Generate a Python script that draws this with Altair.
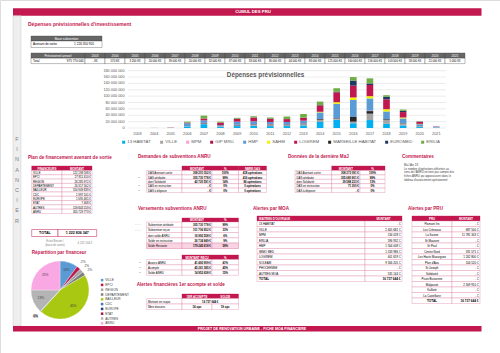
import altair as alt
import pandas as pd

# ---------------- data ----------------
years = [str(y) for y in range(2003, 2022)]
series = ["13 HABITAT", "VILLE", "MPM", "GIP MRU", "HMP", "SAHM", "LOGIREM",
          "MARSEILLE HABITAT", "EUROMED", "ERILIA"]
series_colors = ["#00B0F0", "#A5A5A5", "#F5A3D6", "#A8174A", "#5B9BD5", "#F2F200",
                 "#C0174F", "#262626", "#203864", "#70AD47"]
stack_rank = [0, 1, 3, 4, 5, 6, 7, 2, 8, 9]
# forecast spending, M EUR per owner, 2003..2021
sp_13h = [0, 0, 0, 5, 12, 3, 6, 7, 6, 6, 8, 19, 26, 15, 25, 13, 8, 3, 1]
sp_ville = [0, 0.57, 2, 1, 2, 2, 2, 3, 3, 3, 4, 6, 3, 5, 20, 12, 6, 3, 1]
sp_mpm = [0, 0, 1.2, 0, 0, 0, 0, 0, 1, 0, 0, 0, 0, 0, 1, 0, 0, 0, 0]
sp_gip = [0, 0, 0, 0, 1, 0, 1, 1, 1, 1, 1, 1, 1, 0, 1, 0, 0, 0, 0]
sp_hmp = [0, 0, 0, 9, 8, 4, 10, 9, 7, 8, 9, 21, 45, 53, 38, 25, 15, 6, 2]
sp_sahm = [0, 0, 0, 0, 0, 0, 0, 0, 0, 0, 0, 2, 5, 8, 7, 7, 3, 1, 0]
sp_logi = [0, 0, 0, 2, 6, 8, 9, 12, 10, 9, 9, 20, 31, 37, 35, 31, 17, 6, 1]
sp_mh = [0, 0, 0, 0, 1, 0, 1, 1, 1, 1, 1, 2, 1, 15, 8, 2, 1, 0, 0]
sp_euro = [0, 0, 0, 0, 0, 0, 0, 0, 0, 0, 0, 1, 2, 16, 5, 8, 4, 1, 0]
sp_eril = [0, 0, 0, 3, 9, 3, 3, 4, 4, 8, 12, 11, 11, 11, 16, 5, 4, 1, 0]
spend = [sp_13h, sp_ville, sp_mpm, sp_gip, sp_hmp, sp_sahm, sp_logi, sp_mh, sp_euro, sp_eril]
y_ticks = [0, 20000000, 40000000, 60000000, 80000000, 100000000,
           120000000, 140000000, 160000000, 180000000]

base_subvention = 1226350920

plan_names = ["VILLE", "EPCI", "REGION", "DEPARTEMENT", "BAILLEUR", "CDC",
              "EUROPE", "ETAT", "AUTRES", "ANRU"]
plan_values = [122198598, 27811410, 26285972, 26317562, 550949839, 1997101,
               1695465, 7468, 159843159, 305729773]
plan_colors = ["#5B9BD5", "#C0174F", "#A5A5A5", "#7F7F7F", "#A9C811", "#4472C4",
               "#264478", "#9E1B4A", "#B4B4B4", "#F9A8E4"]
ecart_value = 4222504

dem_labels = ["DAS Avenant sortie", "DAS attribuée", "dont Solidarité",
              "DAS en instruction", "DAS à déposer"]
dem_montant = [308201052, 305730778, 42720591, 0, 0]
dem_pct = [100, 99, 14, 0, 0]
dem_ops = [418, 416, 86, 0, 0]

ver_labels = ["Subvention attribuée", "Subvention reçue", "dont solde ANRU",
              "Solde en instruction", "Solde Restante"]
ver_montant = [305730778, 101706952, 16992558, 26734949, 179245618]
ver_pct = [99, 33, 6, 9, 59]

recu_labels = ["Avance ANRU", "Acompte", "Solde ANRU"]
recu_montant = [41492909, 45261385, 14952658]
recu_pct = [41, 45, 15]

alerte_risque = 16737644
alerte_dossiers = [14, 19]

maj_montant = [308273091, 305680901, 39588233, 71300, 0]
maj_pct = [100, 99, 13, 0, 0]

moa_names = ["13 HABITAT", "VILLE", "MPM", "ERILIA", "HMP", "IMMO MED", "LOGIREM",
             "SOLEAM", "PHOCEENNE", "AUTRES MOA"]
moa_values = [0, 2405682, 134028, 596932, 1564008, 1533986, 401659, 9566205, 0, 535144]

pru_names = ["Flamant Iris", "Les Créneaux", "La Savine", "St Mauront", "St Paul",
             "Centre Nord", "Les Hauts Mazargues", "Plan d'Aou", "St Joseph",
             "Solidarité", "Picon Busserine", "Malpassé", "Kallisté", "La Castellane"]
pru_values = [0, 687500, 11781343, 0, 0, 591571, 1262800, 104520, 0, 0, 0, 2309910, 0, 0]

comment_lines = ["MaJ Avr 18",
                 "Le nombre d'opérations délivrées au",
                 "sens de l'ANRU ne tient pas compte des",
                 "fiches ANRU qui apparaissent dans le",
                 "tableau d'avancement opérationnel"]

# ---------------- styling ----------------
MAG = "#C3174F"
PINK = "#D87C9E"
DARK = "#404040"
GRAYTXT = "#595959"
FONT = "Liberation Sans"
PIE_X, PIE_Y, PIE_R = 60, 290, 29


def fmt(v):
    return f"{v:,.0f}".replace(",", " ")


def eur(v):
    return "- €" if v == 0 else fmt(v) + " €"


rects = []
texts = []


def R(x, x2, y, y2, fill="transparent", stroke="transparent", sw=0.0):
    rects.append(dict(x=x, x2=x2, y=y, y2=y2, fill=fill, stroke=stroke, sw=sw))


def T(x, y, t, size=3.0, color="#000000", align="left", bold=False):
    texts.append(dict(x=x, y=y, t=t, size=size, color=color, align=align, bold=bold))


def grid(xs, ys, stroke=PINK, sw=0.35, fill="#FFFFFF"):
    for i in range(len(xs) - 1):
        for j in range(len(ys) - 1):
            R(xs[i], xs[i + 1], ys[j], ys[j + 1], fill, stroke, sw)


# header band + left strip + bottom band
R(13, 481.5, 8.3, 15.8, MAG)
T(253, 12.1, "CUMUL DES PRU", 4.3, "#FFFFFF", "center", True)
R(13, 21, 15.8, 326, "#EEEEEE", "#BFBFBF", 0.4)
for k, ch in enumerate("FINANCIER"):
    T(17, 139 + 10.2 * k, ch, 5.5, "#808080", "center", False)
R(13, 481.5, 326, 331.5, MAG)
T(252, 328.8, "PROJET DE RENOVATION URBAINE - FICHE MOA FINANCIERE", 3.6, "#FFFFFF", "center", True)

T(28, 23.5, "Dépenses prévisionnelles d'investissement", 5, MAG, "left", True)

# base subvention
R(31, 102, 36, 41, "#666666", "#404040", 0.35)
T(66.5, 38.6, "Base subvention", 3.2, "#FFFFFF", "center")
R(31, 102, 41, 47.5, "#FFFFFF", "#404040", 0.35)
T(33, 44.3, "Avenant de sortie", 3.1)
T(84, 44.3, fmt(base_subvention), 3.1, "#000000", "center")

# annual table
year_tot = [sum(s[i] for s in spend) for i in range(len(years))]
xs_year = [31, 85] + [85 + 20 * (i + 1) for i in range(len(years))]
for i in range(len(xs_year) - 1):
    R(xs_year[i], xs_year[i + 1], 53, 58.2, "#666666", "#404040", 0.35)
    R(xs_year[i], xs_year[i + 1], 58.2, 63.6, "#FFFFFF", "#404040", 0.35)
T(58, 55.7, "Prévisionnel annuel", 3.1, "#FFFFFF", "center")
T(33, 61, "Total", 3.0)
T(83.5, 61, fmt(sum(year_tot) * 1e6), 3.0, "#000000", "right")
for i, y in enumerate(years):
    cx = 95 + 20 * i
    T(cx, 55.7, y, 3.1, "#FFFFFF", "center")
    val = "- K€" if year_tot[i] == 0 else fmt(round(year_tot[i] * 1000)) + " K€"
    T(cx, 61, val, 2.8, "#000000", "center")

# plan de financement
T(28, 158, "Plan de financement avenant de sortie", 4.6, MAG, "left", True)
R(31.7, 62, 166, 170.5, MAG, MAG, 0.35)
R(62, 92, 166, 170.5, MAG, MAG, 0.35)
T(46.85, 168.3, "FINANCEURS", 2.9, "#FFFFFF", "center", True)
T(77, 168.3, "MONTANT", 2.9, "#FFFFFF", "center", True)
ys = [170.5 + 4.3 * k for k in range(len(plan_names) + 1)]
grid([31.7, 62, 92], ys)
for k, (n, v) in enumerate(zip(plan_names, plan_values)):
    yc = ys[k] + 2.15
    T(33, yc, n, 2.8)
    T(90.8, yc, eur(v), 2.8, "#000000", "right")
plan_total = sum(plan_values)
R(31.7, 58, 229.5, 236.5, "#FFFFFF", MAG, 0.5)
R(58, 96.7, 229.5, 236.5, "#FFFFFF", MAG, 0.5)
T(44.85, 233, "TOTAL", 3.6, "#000000", "center", True)
T(77.35, 233, fmt(plan_total), 3.6, "#000000", "center", True)
T(55, 240.8, "Ecart Besoin /", 2.8, "#7F7F7F", "center")
T(55, 244.3, "(base de sortie)", 2.8, "#7F7F7F", "center")
T(85, 242.6, eur(ecart_value), 2.8, "#7F7F7F", "center")
T(31.7, 252.5, "Répartition par financeur", 4.6, MAG, "left", True)

# demandes de subventions
T(138, 156.7, "Demandes de subventions ANRU", 4.6, MAG, "left", True)
xs_d = [146.7, 182, 212, 238.5, 266.5]
for i, h in enumerate(["MONTANT", "%", "NBRE OAS"]):
    R(xs_d[i + 1], xs_d[i + 2], 166, 170.5, MAG, MAG, 0.35)
    T((xs_d[i + 1] + xs_d[i + 2]) / 2, 168.3, h, 2.9, "#FFFFFF", "center", True)
ys = [170.5 + 4.4 * k for k in range(len(dem_labels) + 1)]
grid(xs_d, ys)
for k in range(len(dem_labels)):
    yc = ys[k] + 2.2
    T(148, yc, dem_labels[k], 2.8)
    T(210.8, yc, eur(dem_montant[k]), 2.8, "#000000", "right", True)
    T(225.25, yc, f"{dem_pct[k]}%", 2.8, "#000000", "center", True)
    T(252.5, yc, f"{dem_ops[k]} opérations", 2.8, "#000000", "center", True)
    if k in (1, 3, 4):
        T(139, yc, "•", 2.8, DARK, "center")

# versements
T(138, 209, "Versements subventions ANRU", 4.6, MAG, "left", True)
xs_v = [146.7, 182, 212, 238.5]
for i, h in enumerate(["MONTANT", "%"]):
    R(xs_v[i + 1], xs_v[i + 2], 218, 222, MAG, MAG, 0.35)
    T((xs_v[i + 1] + xs_v[i + 2]) / 2, 220, h, 2.9, "#FFFFFF", "center", True)
ys = [222 + 5.3 * k for k in range(len(ver_labels) + 1)]
grid(xs_v, ys)
for i in range(3):
    R(xs_v[i], xs_v[i + 1], ys[4], ys[5], "#F9D3E2", PINK, 0.35)
for k in range(len(ver_labels)):
    yc = ys[k] + 2.65
    T(148, yc, ver_labels[k], 2.8)
    T(210.8, yc, eur(ver_montant[k]), 2.8, "#000000", "right", True)
    T(225.25, yc, f"{ver_pct[k]}%", 2.8, "#000000", "center", True)
    if k < 2:
        T(138, yc, "- - - -", 2.6, "#7F7F7F", "center")

xs_r = [146.7, 182, 212, 238.5]
for i, h in enumerate(["MONTANT REÇU", "%"]):
    R(xs_r[i + 1], xs_r[i + 2], 255, 259.5, MAG, MAG, 0.35)
    T((xs_r[i + 1] + xs_r[i + 2]) / 2, 257.3, h, 2.9, "#FFFFFF", "center", True)
ys = [259.5 + 5.3 * k for k in range(len(recu_labels) + 1)]
grid(xs_r, ys)
for k in range(len(recu_labels)):
    yc = ys[k] + 2.65
    T(148, yc, recu_labels[k], 2.8)
    T(210.8, yc, eur(recu_montant[k]), 2.8, "#000000", "right", True)
    T(225.25, yc, f"{recu_pct[k]}%", 2.8, "#000000", "center", True)
    T(140, yc, "•", 2.8, DARK, "center")

T(136.7, 285.3, "Alertes financières 1er acompte et solde", 4.6, MAG, "left", True)
for i, h in enumerate(["1ER ACOMPTE", "SOLDE"]):
    R(xs_r[i + 1], xs_r[i + 2], 294, 298.5, MAG, MAG, 0.35)
    T((xs_r[i + 1] + xs_r[i + 2]) / 2, 296.3, h, 2.9, "#FFFFFF", "center", True)
R(146.7, 182, 298.5, 304, "#FFFFFF", PINK, 0.35)
R(182, 238.5, 298.5, 304, "#FFFFFF", PINK, 0.35)
grid(xs_r, [304, 309.5])
T(148, 301.25, "Montant en risque", 2.8)
T(210.25, 301.25, eur(alerte_risque), 2.8, "#000000", "center", True)
T(148, 306.75, "Nbre dossiers", 2.8)
T(197, 306.75, f"{alerte_dossiers[0]} ops", 2.8, "#000000", "center", True)
T(225.25, 306.75, f"{alerte_dossiers[1]} ops", 2.8, "#000000", "center", True)

# donnees derniere MaJ
T(288, 156.7, "Données de la dernière MaJ", 4.6, MAG, "left", True)
xs_m = [295, 331.7, 360, 385]
for i, h in enumerate(["MONTANT", "%"]):
    R(xs_m[i + 1], xs_m[i + 2], 166, 170.5, MAG, MAG, 0.35)
    T((xs_m[i + 1] + xs_m[i + 2]) / 2, 168.3, h, 2.9, "#FFFFFF", "center", True)
ys = [170.5 + 4.4 * k for k in range(len(dem_labels) + 1)]
grid(xs_m, ys)
for k in range(len(dem_labels)):
    yc = ys[k] + 2.2
    T(296.5, yc, dem_labels[k], 2.8)
    T(358.8, yc, eur(maj_montant[k]), 2.8, "#000000", "right", True)
    T(372.5, yc, f"{maj_pct[k]}%", 2.8, "#000000", "center", True)

# commentaires
T(402, 156.7, "Commentaires", 4.6, MAG, "left", True)
for k, line in enumerate(comment_lines):
    T(404, 164.3 + 3.8 * k, line, 2.8, DARK)

# alertes par MOA
T(253, 209, "Alertes  par MOA", 4.6, MAG, "left", True)
xs_o = [257, 365, 402]
R(257, 365, 216, 221, MAG, MAG, 0.35)
R(365, 402, 216, 221, MAG, MAG, 0.35)
T(259, 218.5, "MAITRES D'OUVRAGE", 2.9, "#FFFFFF", "left", True)
T(383.5, 218.5, "MONTANT", 2.9, "#FFFFFF", "center", True)
ys = [221 + 5.5 * k for k in range(len(moa_names) + 2)]
grid(xs_o, ys)
for k in range(len(moa_names)):
    yc = ys[k] + 2.75
    T(259, yc, moa_names[k], 2.9)
    T(400.5, yc, eur(moa_values[k]), 2.9, "#000000", "right")
yc = ys[len(moa_names)] + 2.75
T(259, yc, "TOTAL", 3.1, "#000000", "left", True)
T(400.5, yc, eur(sum(moa_values)), 3.1, "#000000", "right", True)

# alertes par PRU
T(408, 209, "Alertes par PRU", 4.6, MAG, "left", True)
xs_p = [412, 452, 480]
R(412, 452, 216, 221, MAG, MAG, 0.35)
R(452, 480, 216, 221, MAG, MAG, 0.35)
T(432, 218.5, "PRU", 2.9, "#FFFFFF", "center", True)
T(466, 218.5, "MONTANT", 2.9, "#FFFFFF", "center", True)
ys = [221 + 5.5 * k for k in range(len(pru_names) + 2)]
grid(xs_p, ys)
for k in range(len(pru_names)):
    yc = ys[k] + 2.75
    T(432, yc, pru_names[k], 2.9, "#000000", "center")
    T(478.5, yc, eur(pru_values[k]), 2.9, "#000000", "right")
yc = ys[len(pru_names)] + 2.75
T(432, yc, "TOTAL", 3.1, "#000000", "center", True)
T(478.5, yc, eur(sum(pru_values)), 3.1, "#000000", "right", True)

# ---------------- layout layers ----------------
rect_df = pd.DataFrame(rects)
rect_layer = alt.Chart(rect_df).mark_rect().encode(
    x=alt.X("x:Q", scale=None), x2="x2:Q",
    y=alt.Y("y:Q", scale=None), y2="y2:Q",
    fill=alt.Fill("fill:N", scale=None),
    stroke=alt.Stroke("stroke:N", scale=None),
    strokeWidth=alt.StrokeWidth("sw:Q", scale=None),
)

text_df = pd.DataFrame(texts)
text_layers = []
for (al, bd), g in text_df.groupby(["align", "bold"]):
    text_layers.append(
        alt.Chart(g).mark_text(align=al, baseline="middle", font=FONT,
                               fontWeight="bold" if bd else "normal").encode(
            x=alt.X("x:Q", scale=None), y=alt.Y("y:Q", scale=None),
            text="t:N",
            size=alt.Size("size:Q", scale=None),
            color=alt.Color("color:N", scale=None),
        )
    )

# ---------------- bar chart ----------------
bar_rows = []
for s_i, s in enumerate(series):
    for y_i, y in enumerate(years):
        bar_rows.append(dict(year=y, series=s, value=spend[s_i][y_i] * 1e6, rank=stack_rank[s_i]))
bar_df = pd.DataFrame(bar_rows)

xscale = alt.Scale(domain=years, range=[129.2, 444.6], paddingInner=0.6, paddingOuter=0.3)
yscale = alt.Scale(domain=[0, 180000000], range=[128, 70.7], nice=False, zero=True)

tick_df = pd.DataFrame({"v": y_ticks, "lab": [fmt(v) for v in y_ticks]})
gridlines = alt.Chart(tick_df).mark_rule(color="#D9D9D9", strokeWidth=0.5).encode(
    y=alt.Y("v:Q", scale=yscale, axis=None),
    x=alt.value(128), x2=alt.value(446),
)
ylabels = alt.Chart(tick_df).mark_text(align="right", baseline="middle", fontSize=3.8,
                                       color=GRAYTXT, font=FONT).encode(
    y=alt.Y("v:Q", scale=yscale, axis=None), x=alt.value(124.5), text="lab:N")
bars = alt.Chart(bar_df).mark_bar().encode(
    x=alt.X("year:O", scale=xscale, axis=None),
    y=alt.Y("value:Q", scale=yscale, axis=None, stack="zero"),
    color=alt.Color("series:N", scale=alt.Scale(domain=series, range=series_colors),
                    title=None,
                    legend=alt.Legend(orient="none", legendX=121.5, legendY=139.8,
                                      direction="horizontal", columns=10,
                                      symbolType="square", symbolSize=9,
                                      symbolStrokeWidth=0, labelFontSize=4.3,
                                      labelColor=GRAYTXT, labelFont=FONT,
                                      columnPadding=8, labelOffset=1.5, padding=0,
                                      symbolOffset=0, labelLimit=200)),
    order=alt.Order("rank:Q", sort="ascending"),
)
year_df = pd.DataFrame({"year": years})
xlabels = alt.Chart(year_df).mark_text(baseline="middle", fontSize=3.8, color=GRAYTXT,
                                       font=FONT).encode(
    x=alt.X("year:O", scale=xscale, axis=None), y=alt.value(133.5), text="year:N")
title_df = pd.DataFrame({"t": ["Dépenses prévisionnelles"]})
chart_title = alt.Chart(title_df).mark_text(fontSize=6.3, color=GRAYTXT, font=FONT,
                                            fontWeight="bold", baseline="middle").encode(
    x=alt.value(265.5), y=alt.value(74.5), text="t:N")
bar_layer = alt.layer(gridlines, bars, ylabels, xlabels, chart_title)

# ---------------- pie chart ----------------
pie_df = pd.DataFrame({
    "name": plan_names,
    "value": plan_values,
    "i": list(range(len(plan_names))),
})

arcs = alt.Chart(pie_df).mark_arc(outerRadius=PIE_R, stroke="#FFFFFF", strokeWidth=0.3).encode(
    theta=alt.Theta("value:Q", stack=True),
    color=alt.Color("name:N", scale=alt.Scale(domain=plan_names, range=plan_colors),
                    title=None,
                    legend=alt.Legend(orient="none", legendX=100.5, legendY=278.5,
                                      direction="vertical", symbolType="square",
                                      symbolSize=6.25, symbolStrokeWidth=0,
                                      labelFontSize=3.2, labelColor=DARK, labelFont=FONT,
                                      rowPadding=0.8, labelOffset=1.5, padding=0,
                                      symbolOffset=0)),
    order=alt.Order("i:Q", sort="ascending"),
    x=alt.value(PIE_X), y=alt.value(PIE_Y),
)
pie_text = alt.Chart(pie_df).transform_joinaggregate(
    tot="sum(value)"
).transform_window(
    cum="sum(value)", sort=[alt.SortField("i", order="ascending")]
).transform_calculate(
    mid="(datum.cum - datum.value / 2) / datum.tot * 2 * PI",
    lab="format(datum.value / datum.tot, '.0%')",
    lr=f"datum.value / datum.tot >= 0.05 ? {PIE_R * 0.72} : {PIE_R + 7}",
).mark_text(fontSize=3.3, color=DARK, font=FONT, baseline="middle").encode(
    theta=alt.Theta("mid:Q", scale=None),
    radius=alt.Radius("lr:Q", scale=None),
    text="lab:N",
    x=alt.value(PIE_X), y=alt.value(PIE_Y),
)

chart = alt.layer(rect_layer, bar_layer, arcs, pie_text, *text_layers).resolve_scale(
    x="independent", y="independent", color="independent", theta="independent",
    radius="independent"
).properties(
    width=500, height=353, autosize=alt.AutoSizeParams(type="none"), padding=0
).configure_view(strokeWidth=0).configure(background="#FFFFFF")

chart.save("out.html", embed_options={"renderer": "svg", "actions": False})
